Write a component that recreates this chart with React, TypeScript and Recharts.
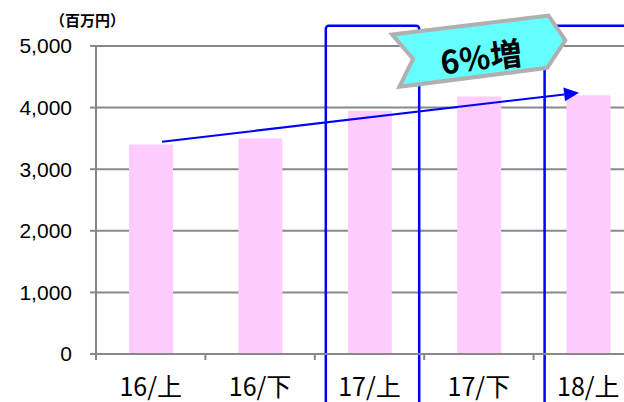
import React from 'react';
import { BarChart, Bar, XAxis, YAxis, CartesianGrid, ReferenceArea, ReferenceLine, ReferenceDot } from 'recharts';

const categories = ['16/上', '16/下', '17/上', '17/下', '18/上'];
const sales = [3400, 3500, 3950, 4180, 4200];
const yTicks = [0, 1000, 2000, 3000, 4000, 5000];
const highlighted = ['17/上', '18/上'];
const trendFrom = { x: '16/上', y: 3425 };
const trendTo = { x: '18/上', y: 4260 };
const badgeAt = { x: '17/下', y: 4910 };
const badgeText = '6%増';
const unitLabel = '（百万円）';

const data = categories.map((name, i) => ({ name, value: sales[i] }));

const GRID = '#888888';
const BLUE = '#0000ff';

// category label plus a tick mark on the left edge of each band
const CategoryTick = (props: any) => {
  const { x, payload } = props;
  const half = payload?.offset ?? 0;
  return (
    <g>
      <line x1={x - half} y1={354} x2={x - half} y2={360} stroke={GRID} strokeWidth={2} />
      <text
        x={x}
        y={396}
        textAnchor="middle"
        fontSize={25}
        fontFamily="'Noto Sans CJK JP', sans-serif"
        fill="#000"
      >
        {payload.value}
      </text>
    </g>
  );
};

// blue rounded frame around a highlighted period
const FrameShape = (props: any) => {
  const { x, y, width, height } = props;
  return (
    <rect
      x={x + 11}
      y={y}
      width={width - 16}
      height={height}
      rx={3}
      ry={3}
      fill="none"
      stroke={BLUE}
      strokeWidth={2.5}
    />
  );
};

// trend arrow between the first and last period
const TrendArrow = (props: any) => {
  const { x1, y1, x2, y2 } = props;
  const sx = x1 + (x2 - x1) * 0.026;
  const sy = y1 + (y2 - y1) * 0.026;
  const ex = x1 + (x2 - x1) * 0.979;
  const ey = y1 + (y2 - y1) * 0.979;
  const len = Math.hypot(ex - sx, ey - sy);
  const ux = (ex - sx) / len;
  const uy = (ey - sy) / len;
  const head = 15;
  const hw = 7;
  const bx = ex - ux * head;
  const by = ey - uy * head;
  return (
    <g>
      <line x1={sx} y1={sy} x2={bx} y2={by} stroke={BLUE} strokeWidth={2} />
      <polygon
        points={`${ex},${ey} ${bx - uy * hw},${by + ux * hw} ${bx + uy * hw},${by - ux * hw}`}
        fill={BLUE}
      />
    </g>
  );
};

// ribbon badge with the growth rate
const Badge = (props: any) => {
  const { cx, cy } = props;
  const pts = [
    [-86.8, -17],
    [69.5, -36],
    [86.5, -11.3],
    [68.2, 16.3],
    [-79.5, 35.3],
    [-65.8, 7.3],
  ]
    .map(([dx, dy]) => `${cx + dx},${cy + dy}`)
    .join(' ');
  return (
    <g>
      <polygon points={pts} fill="#66ffff" stroke="#b0b0b0" strokeWidth={4} strokeLinejoin="miter" />
      <text
        x={cx + 2}
        y={cy + 4}
        transform={`rotate(-7 ${cx + 2} ${cy + 4})`}
        textAnchor="middle"
        dominantBaseline="central"
        fontSize={32}
        fontWeight="bold"
        fontFamily="'Noto Sans CJK JP', sans-serif"
        fill="#000"
      >
        {badgeText}
      </text>
    </g>
  );
};

export default function App() {
  return (
    <div style={{ position: 'absolute', left: 0, top: 0, width: 624, height: 402, overflow: 'hidden', background: '#fff' }}>
      <div
        style={{
          position: 'absolute',
          left: 50,
          top: 9,
          fontSize: 15,
          fontWeight: 'bold',
          fontFamily: "'Noto Sans CJK JP', sans-serif",
          lineHeight: '22px',
          color: '#000',
        }}
      >
        {unitLabel}
      </div>
      <BarChart
        width={660}
        height={402}
        data={data}
        margin={{ top: 46, right: 17, bottom: 0, left: 10 }}
        barCategoryGap="30%"
      >
        <CartesianGrid vertical={false} stroke={GRID} strokeWidth={2} />
        <XAxis
          dataKey="name"
          height={48}
          axisLine={{ stroke: GRID, strokeWidth: 2 }}
          tickLine={false}
          tick={<CategoryTick />}
          interval={0}
        />
        <YAxis
          width={86}
          domain={[0, 5000]}
          ticks={yTicks}
          tickFormatter={(v: number) => v.toLocaleString('en-US')}
          axisLine={{ stroke: GRID, strokeWidth: 2 }}
          tickLine={{ stroke: GRID, strokeWidth: 2 }}
          tickSize={6}
          tickMargin={18}
          tick={{ fill: '#000', fontSize: 21, fontFamily: "'Liberation Sans', Arial, sans-serif" }}
        />
        <Bar dataKey="value" fill="#ffccff" barSize={44} isAnimationActive={false} />
        {highlighted.map((c) => (
          <ReferenceArea
            key={c}
            x1={c}
            x2={c}
            y1={-2000}
            y2={5330}
            ifOverflow="visible"
            shape={<FrameShape />}
          />
        ))}
        <ReferenceLine segment={[trendFrom, trendTo]} ifOverflow="visible" shape={<TrendArrow />} />
        <ReferenceDot x={badgeAt.x} y={badgeAt.y} ifOverflow="visible" shape={<Badge />} />
      </BarChart>
    </div>
  );
}
